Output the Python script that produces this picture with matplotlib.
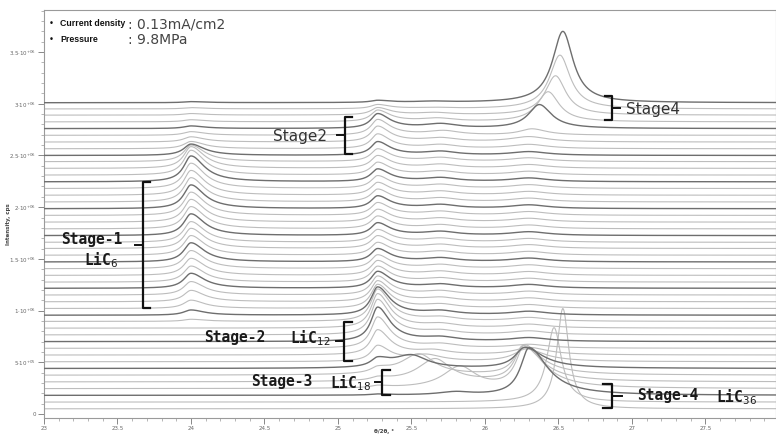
import numpy as np
import matplotlib.pyplot as plt
from matplotlib.ticker import MultipleLocator, FixedLocator, FixedFormatter

# in-situ XRD patterns, bottom -> top, intensity in 1e6 cps
baseline = [0.050, 0.115, 0.180, 0.245, 0.310, 0.375, 0.440, 0.505, 0.570, 0.635,
            0.700, 0.765, 0.830, 0.895, 0.955, 1.020, 1.085, 1.150, 1.215, 1.275,
            1.340, 1.405, 1.470, 1.535, 1.600, 1.660, 1.725, 1.790, 1.855, 1.920,
            1.985, 2.050, 2.115, 2.180, 2.245, 2.310, 2.375, 2.440, 2.500, 2.565,
            2.630, 2.695, 2.760, 2.825, 2.890, 2.950, 3.010]

# stage-1 LiC6 peak (~24.0 deg)
h_lic6 = [0, 0, 0, 0, 0, 0, 0, 0, 0, 0,
          0, 0, 0, 0.02, 0.05, 0.08, 0.11, 0.13, 0.145, 0.155,
          0.165, 0.175, 0.185, 0.19, 0.195, 0.20, 0.21, 0.215, 0.22, 0.225,
          0.23, 0.235, 0.24, 0.245, 0.25, 0.24, 0.21, 0.16, 0.11, 0.07,
          0.05, 0.035, 0.025, 0.02, 0.015, 0.012, 0.01]

# stage-2 LiC12 peak (~25.27 deg)
h_lic12 = [0, 0, 0.01, 0.02, 0.03, 0.05, 0.08, 0.15, 0.24, 0.30,
           0.33, 0.34, 0.33, 0.31, 0.27, 0.23, 0.20, 0.18, 0.16, 0.15,
           0.14, 0.13, 0.125, 0.12, 0.12, 0.12, 0.12, 0.12, 0.12, 0.12,
           0.12, 0.12, 0.12, 0.12, 0.12, 0.12, 0.12, 0.12, 0.13, 0.14,
           0.15, 0.15, 0.14, 0.11, 0.07, 0.04, 0.02]

# stage-3 LiC18 peak / broad hump
pos_hump = [25.70, 25.70, 25.80, 25.83, 25.66, 25.55, 25.50, 25.60, 25.65, 25.70,
            25.70, 25.70, 25.70, 25.70, 25.70, 25.70, 25.70, 25.70, 25.70, 25.70,
            25.70, 25.70, 25.70, 25.70, 25.70, 25.70, 25.70, 25.70, 25.70, 25.70,
            25.70, 25.70, 25.70, 25.70, 25.70, 25.70, 25.70, 25.70, 25.70, 25.70,
            25.70, 25.72, 25.70, 25.68, 25.66, 25.65, 25.65]
h_hump = [0, 0, 0.03, 0.21, 0.22, 0.20, 0.12, 0.06, 0.04, 0.035,
          0.035, 0.035, 0.035, 0.035, 0.035, 0.035, 0.035, 0.035, 0.035, 0.035,
          0.035, 0.035, 0.035, 0.035, 0.035, 0.035, 0.035, 0.035, 0.035, 0.035,
          0.035, 0.035, 0.035, 0.035, 0.035, 0.035, 0.035, 0.035, 0.035, 0.035,
          0.035, 0.04, 0.04, 0.03, 0.02, 0.01, 0.01]

# stage-4 LiC36 / graphite-like peak (26.2 - 26.5 deg)
pos_g = [26.53, 26.47, 26.30, 26.27, 26.26, 26.26, 26.27, 26.28, 26.30, 26.30,
         26.30, 26.30, 26.30, 26.30, 26.30, 26.30, 26.30, 26.30, 26.30, 26.30,
         26.30, 26.30, 26.30, 26.30, 26.30, 26.30, 26.30, 26.30, 26.30, 26.30,
         26.30, 26.30, 26.30, 26.30, 26.30, 26.30, 26.30, 26.30, 26.30, 26.30,
         26.30, 26.32, 26.37, 26.43, 26.48, 26.51, 26.53]
h_g = [0.97, 0.72, 0.46, 0.41, 0.34, 0.28, 0.20, 0.12, 0.07, 0.035,
       0.035, 0.035, 0.035, 0.035, 0.035, 0.035, 0.035, 0.035, 0.035, 0.035,
       0.035, 0.035, 0.035, 0.035, 0.035, 0.035, 0.035, 0.035, 0.035, 0.035,
       0.035, 0.035, 0.035, 0.035, 0.035, 0.035, 0.035, 0.035, 0.035, 0.04,
       0.05, 0.06, 0.23, 0.29, 0.38, 0.52, 0.69]
wl_g = [0.05, 0.06, 0.07, 0.07, 0.07, 0.07, 0.08, 0.10, 0.12] + [0.15] * 32 + [0.10, 0.09, 0.09, 0.085, 0.085, 0.085]
wr_g = [0.05, 0.06, 0.15, 0.15, 0.15, 0.15, 0.15, 0.15, 0.15] + [0.15] * 32 + [0.12, 0.10, 0.09, 0.085, 0.085, 0.085]

two_theta = np.linspace(23, 28, 1201)


def peak(x, c, h, wl, wr):
    w = np.where(x < c, wl, wr)
    return h / (1 + ((x - c) / w) ** 2)


def brace(ax, x, y0, y1, arm, tick):
    # vertical bar with arms (arm sign gives direction) and middle tick
    ym = (y0 + y1) / 2
    ax.plot([x + arm, x, x, x + arm], [y1, y1, y0, y0], color='#111111', lw=1.6,
            solid_joinstyle='round', clip_on=False, zorder=5)
    ax.plot([x, x + tick], [ym, ym], color='#111111', lw=1.4, clip_on=False, zorder=5)


fig = plt.figure(figsize=(7.76, 4.38), dpi=100)
ax = fig.add_axes([44 / 776, 20 / 438, 1 - 44 / 776, 408 / 438])

for i in range(len(baseline)):
    y = baseline[i] + np.zeros_like(two_theta)
    y += peak(two_theta, 24.0, h_lic6[i], 0.06, 0.11)
    y += peak(two_theta, 25.27, h_lic12[i], 0.055, 0.10)
    y += peak(two_theta, pos_hump[i], h_hump[i], 0.14, 0.13)
    y += peak(two_theta, pos_g[i], h_g[i], wl_g[i], wr_g[i])
    if i % 4 == 2:
        ax.plot(two_theta, y * 1e6, color='#6e6e6e', lw=1.0, zorder=3)
    else:
        ax.plot(two_theta, y * 1e6, color='#bdbdbd', lw=0.8, zorder=2)

ax.set_xlim(23, 27.98)
ax.set_ylim(-0.039e6, 3.907e6)

ax.xaxis.set_major_locator(MultipleLocator(0.5))
ax.xaxis.set_minor_locator(MultipleLocator(0.1))
ax.xaxis.set_major_formatter(plt.FuncFormatter(lambda v, p: ('%g' % v)))

yt = [0, 0.5e6, 1e6, 1.5e6, 2e6, 2.5e6, 3e6, 3.5e6]
ylabels = ['0', '5·10$^{+05}$', '1·10$^{+06}$', '1.5·10$^{+06}$', '2·10$^{+06}$',
           '2.5·10$^{+06}$', '3·10$^{+06}$', '3.5·10$^{+06}$']
ax.yaxis.set_major_locator(FixedLocator(yt))
ax.yaxis.set_major_formatter(FixedFormatter(ylabels))
ax.yaxis.set_minor_locator(MultipleLocator(0.1e6))

ax.tick_params(which='major', length=4, width=0.7, color='#888888', labelsize=4,
               labelcolor='#666666', pad=2)
ax.tick_params(which='minor', length=2, width=0.5, color='#999999')
for s in ax.spines.values():
    s.set_color('#9a9a9a')
    s.set_linewidth(0.8)

ax.set_xlabel('θ/2θ, °', fontsize=4, color='#444444', fontweight='bold')
ax.xaxis.set_label_coords(0.465, -0.027)
ax.set_ylabel('Intensity, cps', fontsize=4, color='#444444', fontweight='bold')
ax.yaxis.set_label_coords(-0.045, 0.475)

# stage annotations
mono = dict(family='DejaVu Sans Mono', fontweight='bold', color='#1a1a1a', fontsize=10.5)

brace(ax, 23.673, 1.025e6, 2.244e6, 0.05, -0.055)
ax.text(23.327, 1.69e6, 'Stage-1', ha='center', va='center', **mono)
ax.text(23.39, 1.49e6, 'LiC$_6$', ha='center', va='center', **mono)

brace(ax, 25.048, 2.515e6, 2.872e6, 0.047, -0.055)
ax.text(24.741, 2.68e6, 'Stage2', ha='center', va='center', fontsize=11, color='#333333')

brace(ax, 26.864, 2.843e6, 3.075e6, -0.048, 0.055)
ax.text(26.96, 2.94e6, 'Stage4', ha='left', va='center', fontsize=11, color='#333333')

brace(ax, 25.041, 0.513e6, 0.890e6, 0.054, -0.055)
ax.text(24.296, 0.735e6, 'Stage-2', ha='center', va='center', **mono)
ax.text(24.673, 0.73e6, 'LiC$_{12}$', ha='left', va='center', **mono)

brace(ax, 25.299, 0.184e6, 0.426e6, 0.055, -0.048)
ax.text(24.619, 0.31e6, 'Stage-3', ha='center', va='center', **mono)
ax.text(24.946, 0.30e6, 'LiC$_{18}$', ha='left', va='center', **mono)

brace(ax, 26.864, 0.058e6, 0.290e6, -0.061, 0.068)
ax.text(27.245, 0.174e6, 'Stage-4', ha='center', va='center', **mono)
ax.text(27.571, 0.165e6, 'LiC$_{36}$', ha='left', va='center', **mono)

# measurement conditions
small = dict(family='Liberation Sans', fontweight='bold', fontsize=6.3, color='#111111', va='center')
fig.text(50 / 776, 1 - 24 / 438, '•', **small)
fig.text(60 / 776, 1 - 24 / 438, 'Current density', **small)
fig.text(50 / 776, 1 - 40 / 438, '•', **small)
fig.text(60 / 776, 1 - 40 / 438, 'Pressure', **small)
fig.text(128 / 776, 1 - 24 / 438, ': 0.13mA/cm2', fontsize=10, color='#444444', va='center')
fig.text(128 / 776, 1 - 40 / 438, ': 9.8MPa', fontsize=10, color='#444444', va='center')

fig.savefig('out.png', dpi=100)
